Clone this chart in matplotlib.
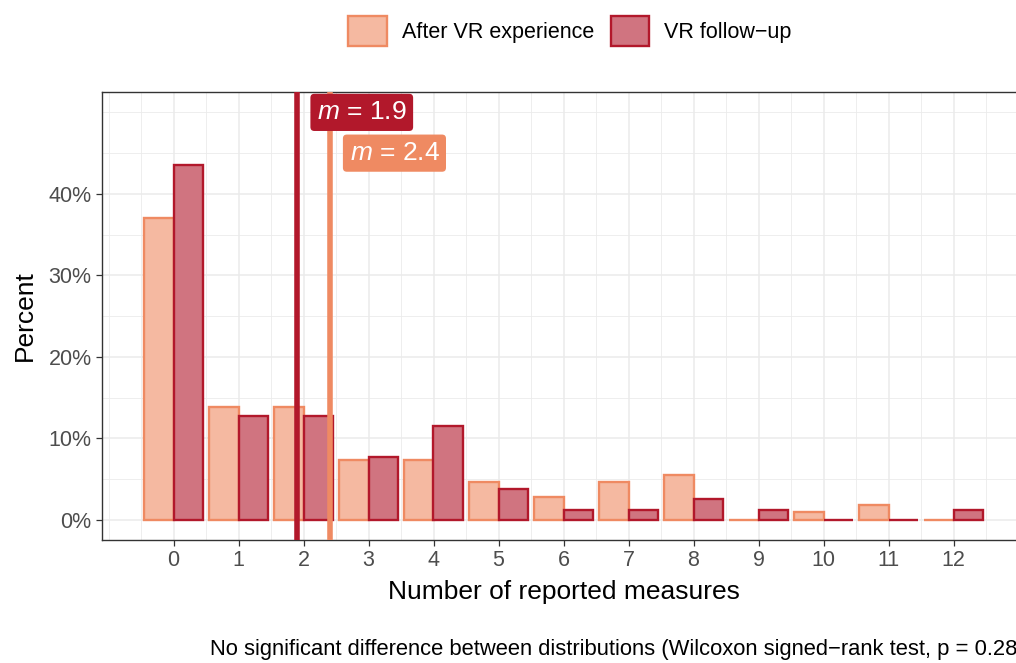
import matplotlib
matplotlib.use("Agg")
import matplotlib.pyplot as plt
import numpy as np
from matplotlib.patches import Patch

plt.rcParams['font.family'] = ['Liberation Sans', 'DejaVu Sans']
plt.rcParams['mathtext.fontset'] = 'custom'
plt.rcParams['mathtext.rm'] = 'Liberation Sans'
plt.rcParams['mathtext.it'] = 'Liberation Sans:italic'

# Data
measures = list(range(13))
after_counts = [40, 15, 15, 8, 8, 5, 3, 5, 6, 0, 1, 2, 0]      # n = 108
followup_counts = [34, 10, 10, 6, 9, 3, 1, 1, 2, 1, 0, 0, 1]   # n = 78
after_pct = [100 * c / sum(after_counts) for c in after_counts]
followup_pct = [100 * c / sum(followup_counts) for c in followup_counts]
mean_after = 2.4
mean_followup = 1.9
series_labels = ["After VR experience", "VR follow\u2212up"]
y_ticks = [0, 10, 20, 30, 40]
caption = "No significant difference between distributions (Wilcoxon signed\u2212rank test, p = 0.28)"

c_after = "#EF8A62"
c_follow = "#B2182B"
f_after = (0.961, 0.725, 0.631)
f_follow = (0.816, 0.455, 0.502)

W, H = 1016, 663
fig = plt.figure(figsize=(W / 100, H / 100), dpi=100)
ax = fig.add_axes([102 / W, (H - 540) / H, 923 / W, 448 / H])

x = np.array(measures)
bw = 0.45
ax.bar(x - bw / 2, after_pct, width=bw, facecolor=f_after,
       edgecolor=c_after, linewidth=1.7, zorder=3)
ax.bar(x + bw / 2, followup_pct, width=bw, facecolor=f_follow,
       edgecolor=c_follow, linewidth=1.7, zorder=3)

ax.axvline(mean_followup, color=c_follow, lw=4.0, zorder=4)
ax.axvline(mean_after, color=c_after, lw=4.0, zorder=4)

lab_off = 20 / 65
ax.text(mean_followup + lab_off, 50, r"$m$ = %.1f" % mean_followup, color="white", fontsize=19,
        ha="left", va="center", zorder=6,
        bbox=dict(boxstyle="round,pad=0.25,rounding_size=0.15", fc=c_follow, ec="none"))
ax.text(mean_after + lab_off, 45, r"$m$ = %.1f" % mean_after, color="white", fontsize=19,
        ha="left", va="center", zorder=6,
        bbox=dict(boxstyle="round,pad=0.25,rounding_size=0.15", fc=c_after, ec="none"))

ax.set_xlim(-1.1, 13.1)
ax.set_ylim(-2.45, 52.5)

# grid
for v in np.arange(-1, 13.6, 0.5):
    major = abs(v - round(v)) < 1e-9 and 0 <= v <= 12
    ax.axvline(v, color="#EBEBEB", lw=1.1 if major else 0.6, zorder=0)
for v in np.arange(0, 52, 5):
    major = v in y_ticks
    ax.axhline(v, color="#EBEBEB", lw=1.1 if major else 0.6, zorder=0)

ax.set_xticks(measures)
ax.set_xticklabels([str(m) for m in measures])
ax.set_yticks(y_ticks)
ax.set_yticklabels([f"{t}%" for t in y_ticks])
ax.tick_params(axis="both", colors="#333333", labelcolor="#4D4D4D", labelsize=15.5, length=4, width=0.9)
for s in ax.spines.values():
    s.set_color("#333333")
    s.set_linewidth(1.0)

ax.set_xlabel("Number of reported measures", fontsize=19, labelpad=6)
ax.set_ylabel("Percent", fontsize=19, labelpad=8)

handles = [Patch(facecolor=f_after, edgecolor=c_after, linewidth=1.7),
           Patch(facecolor=f_follow, edgecolor=c_follow, linewidth=1.7)]
fig.legend(handles, series_labels, loc="center", bbox_to_anchor=(570 / W, 1 - 31 / H),
           ncol=2, frameon=False, fontsize=15.5, handlelength=1.8, handleheight=1.8,
           handletextpad=0.7, columnspacing=0.75)

fig.text(210 / W, 1 - 650 / H, caption, fontsize=15.8, ha="left", va="center")

fig.savefig("out.png", dpi=100)
